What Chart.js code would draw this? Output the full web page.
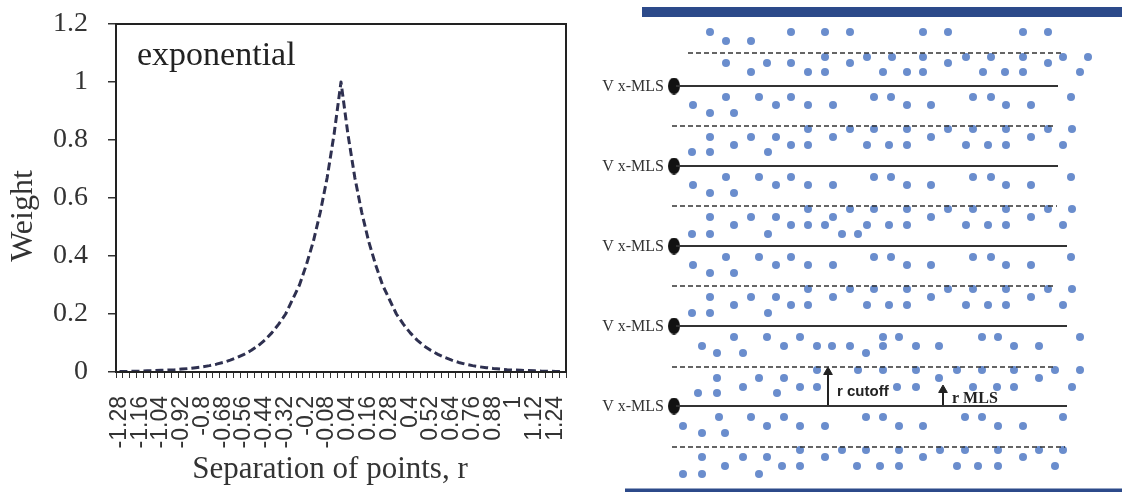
<!DOCTYPE html>
<html>
<head>
<meta charset="utf-8">
<script src="https://cdn.jsdelivr.net/npm/chart.js@4/dist/chart.umd.min.js"></script>
<style>
  html, body { margin: 0; padding: 0; background: #fff; }
  #wrap { position: relative; width: 1122px; height: 492px; overflow: hidden; }
  #weightChart { position: absolute; left: 0; top: 0; }
  #bandChart { position: absolute; left: 580px; top: 0; }
</style>
</head>
<body>
<div id="wrap">
  <canvas id="weightChart" width="580" height="492"></canvas>
  <canvas id="bandChart" width="542" height="492"></canvas>
</div>
<script>
// --- weight function: separation r vs weight ---
const separations = [
  -1.28, -1.24, -1.2, -1.16, -1.12, -1.08, -1.04, -1, -0.96, -0.92, -0.88, -0.84, -0.8,
  -0.76, -0.72, -0.68, -0.64, -0.6, -0.56, -0.52, -0.48, -0.44, -0.4, -0.36, -0.32,
  -0.28, -0.24, -0.2, -0.16, -0.12, -0.08, -0.04, 0, 0.04, 0.08, 0.12, 0.16, 0.2,
  0.24, 0.28, 0.32, 0.36, 0.4, 0.44, 0.48, 0.52, 0.56, 0.6, 0.64, 0.68, 0.72, 0.76,
  0.8, 0.84, 0.88, 0.92, 0.96, 1, 1.04, 1.08, 1.12, 1.16, 1.2, 1.24, 1.28
];
const weights = [
  0.002, 0.002, 0.003, 0.003, 0.004, 0.005, 0.006, 0.007, 0.008, 0.01, 0.012, 0.015, 0.018,
  0.022, 0.027, 0.033, 0.041, 0.05, 0.061, 0.074, 0.09, 0.11, 0.135, 0.165, 0.2,
  0.25, 0.3, 0.37, 0.45, 0.55, 0.67, 0.82, 1, 0.82, 0.67, 0.55, 0.45, 0.37,
  0.3, 0.25, 0.2, 0.165, 0.135, 0.11, 0.09, 0.074, 0.061, 0.05, 0.041, 0.033, 0.027, 0.022,
  0.018, 0.015, 0.012, 0.01, 0.008, 0.007, 0.006, 0.005, 0.004, 0.003, 0.003, 0.002, 0.002
];
const weightTicks = [0, 0.2, 0.4, 0.6, 0.8, 1, 1.2];

// --- MLS band sketch ---
const solidY = [86, 166, 246, 326, 406];
const solidEnd = [1058, 1058, 1067, 1067, 1067];
const dashedY = [53, 126, 206, 286, 367, 447];
const dashedStart = [688, 672, 672, 672, 672, 672];
const dashedEnd = [1063, 1056, 1057, 1056, 1053, 1065];
// each row: [y, x positions]
const dotRows = [
  [32, [710, 791, 825, 850, 923, 948, 1023, 1048]],
  [41, [726, 751]],
  [57, [825, 867, 892, 923, 966, 991, 1023, 1063, 1088]],
  [63, [726, 767, 791, 850, 948, 1048]],
  [72, [751, 808, 825, 883, 907, 923, 983, 1005, 1023, 1080]],

  [97, [726, 759, 791, 874, 891, 973, 991, 1071]],
  [105, [693, 776, 808, 833, 907, 931, 1006, 1031]],
  [113, [710, 734]],
  [129, [808, 850, 874, 907, 948, 973, 1006, 1048, 1072]],
  [137, [710, 751, 776, 833, 931, 1031]],
  [145, [734, 791, 808, 867, 889, 907, 966, 988, 1006, 1063]],
  [152, [692, 710, 768]],

  [177, [726, 759, 791, 874, 891, 973, 991, 1071]],
  [185, [693, 776, 808, 833, 907, 931, 1006, 1031]],
  [193, [710, 734]],
  [209, [808, 850, 874, 907, 948, 973, 1006, 1048, 1072]],
  [217, [710, 751, 776, 833, 931, 1031]],
  [225, [734, 791, 808, 825, 867, 889, 907, 966, 988, 1006, 1063]],
  [234, [692, 710, 768, 842, 858]],

  [257, [726, 759, 791, 874, 891, 973, 991, 1071]],
  [265, [693, 776, 808, 833, 907, 931, 1006, 1031]],
  [273, [710, 734]],
  [289, [808, 850, 874, 907, 948, 973, 1006, 1048, 1072]],
  [297, [710, 751, 776, 833, 931, 1031]],
  [305, [734, 791, 808, 867, 889, 907, 966, 988, 1006, 1063]],
  [313, [692, 710, 768]],

  [337, [734, 767, 800, 883, 899, 982, 998, 1080]],
  [346, [702, 784, 817, 832, 850, 883, 916, 939, 1014, 1039]],
  [353, [717, 743, 866]],
  [370, [817, 858, 883, 916, 957, 982, 1014, 1055, 1080]],
  [378, [717, 759, 784, 939, 1039]],
  [387, [743, 800, 817, 897, 916, 973, 997, 1014, 1072]],
  [393, [698, 717, 777]],

  [417, [719, 751, 784, 866, 883, 965, 982, 1063]],
  [426, [683, 767, 800, 825, 899, 923, 998, 1023]],
  [433, [702, 725]],
  [450, [800, 842, 866, 899, 940, 965, 998, 1039, 1063]],
  [457, [702, 743, 767, 825, 923, 1023]],
  [466, [725, 782, 800, 857, 880, 899, 957, 978, 998, 1055]],
  [474, [683, 702, 759]]
];
const arrows = [
  { x: 828, from: 406, to: 372, label: 'r cutoff', font: 'bold 15px "Liberation Sans"', tx: 837, ty: 396 },
  { x: 943, from: 406, to: 390, label: 'r MLS', font: 'bold 16px "Liberation Serif"', tx: 952, ty: 403 }
];
const edgeBars = [
  { y: 12, from: 642, to: 1122, width: 10 },
  { y: 492, from: 625, to: 1122, width: 7 }
];

// --- left chart ---
const frame = {
  id: 'frame',
  afterDraw(chart) {
    const { ctx, chartArea: a } = chart;
    ctx.save();
    ctx.strokeStyle = '#222';
    ctx.lineWidth = 2;
    ctx.strokeRect(a.left, a.top, a.right - a.left, a.bottom - a.top);

    ctx.fillStyle = '#222';
    ctx.font = '34px "Liberation Serif"';
    ctx.textAlign = 'left';
    ctx.fillText('exponential', a.left + 21, 65);

    ctx.fillStyle = '#333';
    ctx.font = '31px "Liberation Serif"';
    ctx.textAlign = 'center';
    ctx.fillText('Separation of points, r', 330, 478);

    ctx.translate(24, 216);
    ctx.rotate(-Math.PI / 2);
    ctx.textBaseline = 'middle';
    ctx.font = '32px "Liberation Serif"';
    ctx.fillText('Weight', 0, 0);
    ctx.restore();
  }
};

new Chart(document.getElementById('weightChart'), {
  type: 'line',
  data: {
    labels: separations.map(String),
    datasets: [{
      data: weights,
      borderColor: '#2e3050',
      borderWidth: 3,
      borderDash: [8, 4],
      borderJoinStyle: 'round',
      pointRadius: 0,
      tension: 0,
      fill: false
    }]
  },
  options: {
    responsive: false,
    animation: false,
    events: [],
    layout: { autoPadding: false, padding: { top: 24, right: 14, left: 0, bottom: 0 } },
    plugins: { legend: { display: false }, tooltip: { enabled: false } },
    scales: {
      x: {
        offset: true,
        grid: { offset: true, drawOnChartArea: false, tickLength: 6, color: '#333', lineWidth: 1 },
        border: { color: '#222', width: 2 },
        ticks: {
          autoSkip: false, minRotation: 90, maxRotation: 90, padding: 18, color: '#333',
          font: { family: 'Liberation Sans', size: 23 },
          callback: (v, i) => (i % 3 === 0 ? String(separations[i]) : '')
        },
        afterFit: s => { s.height = 120; s.paddingLeft = 0; s.paddingRight = 0; }
      },
      y: {
        min: 0, max: 1.2,
        afterBuildTicks: s => { s.ticks = weightTicks.map(v => ({ value: v })); },
        grid: { drawOnChartArea: false, tickLength: 8, color: '#333', lineWidth: 1.5 },
        border: { color: '#222', width: 2 },
        ticks: {
          padding: 20, color: '#333', font: { family: 'Liberation Serif', size: 28 },
          callback: v => String(v)
        },
        afterFit: s => { s.width = 116; s.paddingTop = 0; s.paddingBottom = 0; }
      }
    }
  },
  plugins: [frame]
});

// --- right sketch ---
const blob = document.createElement('canvas');
blob.width = 12; blob.height = 17;
const bctx = blob.getContext('2d');
bctx.fillStyle = '#111';
bctx.beginPath();
bctx.ellipse(6, 8.5, 6, 8.5, 0, 0, Math.PI * 2);
bctx.fill();

const seg = (x0, x1, y) => [{ x: x0, y }, { x: x1, y }];
const sets = [];

edgeBars.forEach(b => sets.push({
  type: 'line', data: seg(b.from, b.to, b.y), borderColor: '#2c4a8a',
  borderWidth: b.width, pointRadius: 0
}));
solidY.forEach((y, i) => sets.push({
  type: 'line', data: seg(676, solidEnd[i], y), borderColor: '#333',
  borderWidth: 2, pointRadius: 0
}));
dashedY.forEach((y, i) => sets.push({
  type: 'line', data: seg(dashedStart[i], dashedEnd[i], y), borderColor: '#333',
  borderWidth: 1.5, borderDash: [5, 3], pointRadius: 0
}));
arrows.forEach(a => sets.push({
  type: 'line', data: [{ x: a.x, y: a.from }, { x: a.x, y: a.to }],
  borderColor: '#222', backgroundColor: '#222', borderWidth: 2,
  pointRadius: [0, 5], pointStyle: 'triangle', pointBorderWidth: 1
}));
sets.push({
  type: 'scatter', data: solidY.map(y => ({ x: 674, y })),
  pointStyle: blob
});
sets.push({
  type: 'scatter',
  data: dotRows.flatMap(([y, xs]) => xs.map(x => ({ x, y }))),
  backgroundColor: '#6a8dcd', borderWidth: 0, pointRadius: 4
});

const sketchText = {
  id: 'sketchText',
  afterDraw(chart) {
    const { ctx, scales: { x, y } } = chart;
    ctx.save();
    ctx.fillStyle = '#333';
    ctx.textAlign = 'right';
    ctx.textBaseline = 'middle';
    ctx.font = '16px "Liberation Serif"';
    solidY.forEach(v => {
      ctx.fillText('V x-MLS', x.getPixelForValue(664), y.getPixelForValue(v) + 1);
    });
    ctx.textAlign = 'left';
    ctx.textBaseline = 'alphabetic';
    ctx.fillStyle = '#222';
    arrows.forEach(a => {
      ctx.font = a.font;
      ctx.fillText(a.label, x.getPixelForValue(a.tx), y.getPixelForValue(a.ty));
    });
    ctx.restore();
  }
};

new Chart(document.getElementById('bandChart'), {
  type: 'scatter',
  data: { datasets: sets },
  options: {
    responsive: false,
    animation: false,
    events: [],
    layout: { autoPadding: false, padding: 0 },
    plugins: { legend: { display: false }, tooltip: { enabled: false } },
    scales: {
      x: { display: false, min: 580, max: 1122 },
      y: { display: false, min: 0, max: 492, reverse: true }
    }
  },
  plugins: [sketchText]
});
</script>
</body>
</html>
